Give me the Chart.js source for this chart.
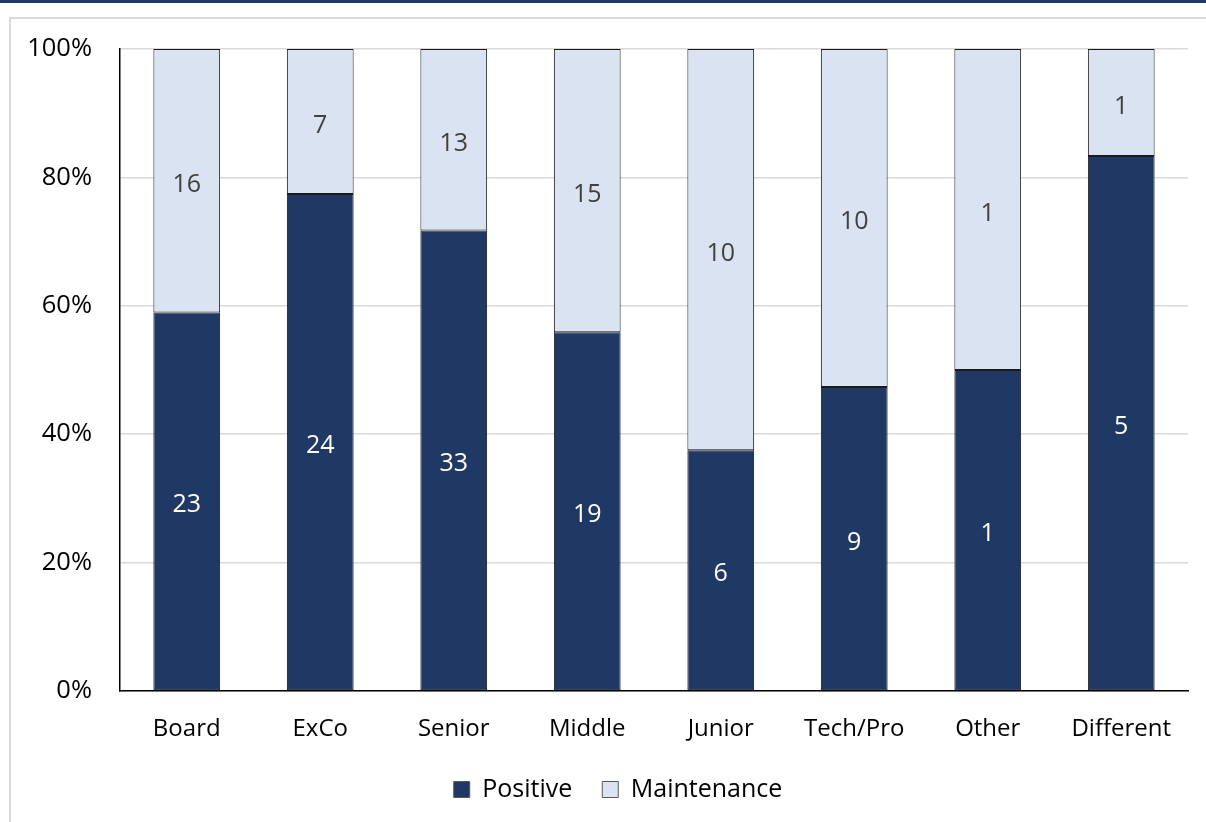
<!DOCTYPE html>
<html>
<head>
<meta charset="utf-8">
<script src="https://cdn.jsdelivr.net/npm/chart.js@4.4.1/dist/chart.umd.min.js"></script>
<style>
  html, body { margin: 0; padding: 0; background: #fff; }
  #wrap { position: relative; width: 1206px; height: 822px; overflow: hidden; }
  #band { position: absolute; left: 0; top: 0; width: 1206px; height: 3px; background: #1f3864; }
  #frame { position: absolute; left: 9px; top: 17px; width: 1300px; height: 900px;
           border-left: 2px solid #d9d9d9; border-top: 2px solid #d9d9d9; }
  canvas { position: absolute; left: 0; top: 0; }
</style>
</head>
<body>
<div id="wrap">
  <div id="band"></div>
  <div id="frame"></div>
  <canvas id="chart" width="1206" height="822"></canvas>
</div>
<script>
// 카테고리와 인원 수
var categories = ['Board', 'ExCo', 'Senior', 'Middle', 'Junior', 'Tech/Pro', 'Other', 'Different'];
var positive = [23, 24, 33, 19, 6, 9, 1, 5];
var maintenance = [16, 7, 13, 15, 10, 10, 1, 1];
var yTicks = [0, 20, 40, 60, 80, 100];

var FONT = 'Open Sans';

// 100% 누적 비율로 변환
function share(a, b) {
    return a.map(function(v, i) { return v / (v + b[i]) * 100; });
}

// 막대 안에 인원 수 표시
var countLabels = {
    id: 'countLabels',
    afterDatasetsDraw: function(chart) {
        var ctx = chart.ctx;
        ctx.save();
        ctx.font = '25px "' + FONT + '"';
        ctx.textAlign = 'center';
        ctx.textBaseline = 'middle';
        chart.data.datasets.forEach(function(ds, di) {
            var meta = chart.getDatasetMeta(di);
            meta.data.forEach(function(bar, i) {
                var mid = (bar.y + bar.base) / 2;
                ctx.fillStyle = di === 0 ? '#ffffff' : '#404040';
                ctx.fillText(ds.counts[i], bar.x, mid + 4);
            });
        });
        ctx.restore();
    }
};

// 범례를 살짝 오른쪽으로
var legendShift = {
    id: 'legendShift',
    afterLayout: function(chart) {
        if (chart.legend) {
            chart.legend.left += 19;
            chart.legend.right += 19;
        }
    }
};

var ctx = document.getElementById('chart').getContext('2d');
new Chart(ctx, {
    type: 'bar',
    data: {
        labels: categories,
        datasets: [{
            label: 'Positive',
            data: share(positive, maintenance),
            counts: positive,
            backgroundColor: '#203864',
            borderColor: '#1a1a1a',
            borderWidth: 1,
            borderSkipped: false
        }, {
            label: 'Maintenance',
            data: share(maintenance, positive),
            counts: maintenance,
            backgroundColor: '#dae3f1',
            borderColor: '#1a1a1a',
            borderWidth: 1,
            borderSkipped: false
        }]
    },
    options: {
        responsive: false,
        animation: false,
        layout: { padding: { left: 10, right: 18, top: 49, bottom: 10 } },
        datasets: { bar: { categoryPercentage: 1, barPercentage: 0.5 } },
        scales: {
            x: {
                stacked: true,
                grid: { display: false, drawTicks: false },
                border: { color: '#000', width: 1.5 },
                ticks: { color: '#000', padding: 24, font: { family: FONT, size: 24 } },
                afterFit: function(s) { s.height = 56; }
            },
            y: {
                stacked: true,
                min: 0,
                max: 100,
                afterBuildTicks: function(s) { s.ticks = yTicks.map(function(v) { return { value: v }; }); },
                grid: { color: '#d9d9d9', lineWidth: 1.5, drawTicks: false },
                border: { color: '#000', width: 1.5 },
                ticks: {
                    color: '#000',
                    padding: 28,
                    font: { family: FONT, size: 25.5 },
                    callback: function(v) { return v + '%'; }
                },
                afterFit: function(s) { s.width = 110; }
            }
        },
        plugins: {
            legend: {
                position: 'bottom',
                labels: {
                    color: '#000',
                    boxWidth: 16,
                    boxHeight: 16,
                    padding: 30,
                    font: { family: FONT, size: 25 },
                    generateLabels: function(chart) {
                        return chart.data.datasets.map(function(ds, i) {
                            return {
                                text: ds.label,
                                fillStyle: ds.backgroundColor,
                                strokeStyle: '#595959',
                                lineWidth: 1,
                                fontColor: '#000',
                                datasetIndex: i
                            };
                        });
                    }
                }
            },
            tooltip: { enabled: false }
        }
    },
    plugins: [countLabels, legendShift]
});
</script>
</body>
</html>
